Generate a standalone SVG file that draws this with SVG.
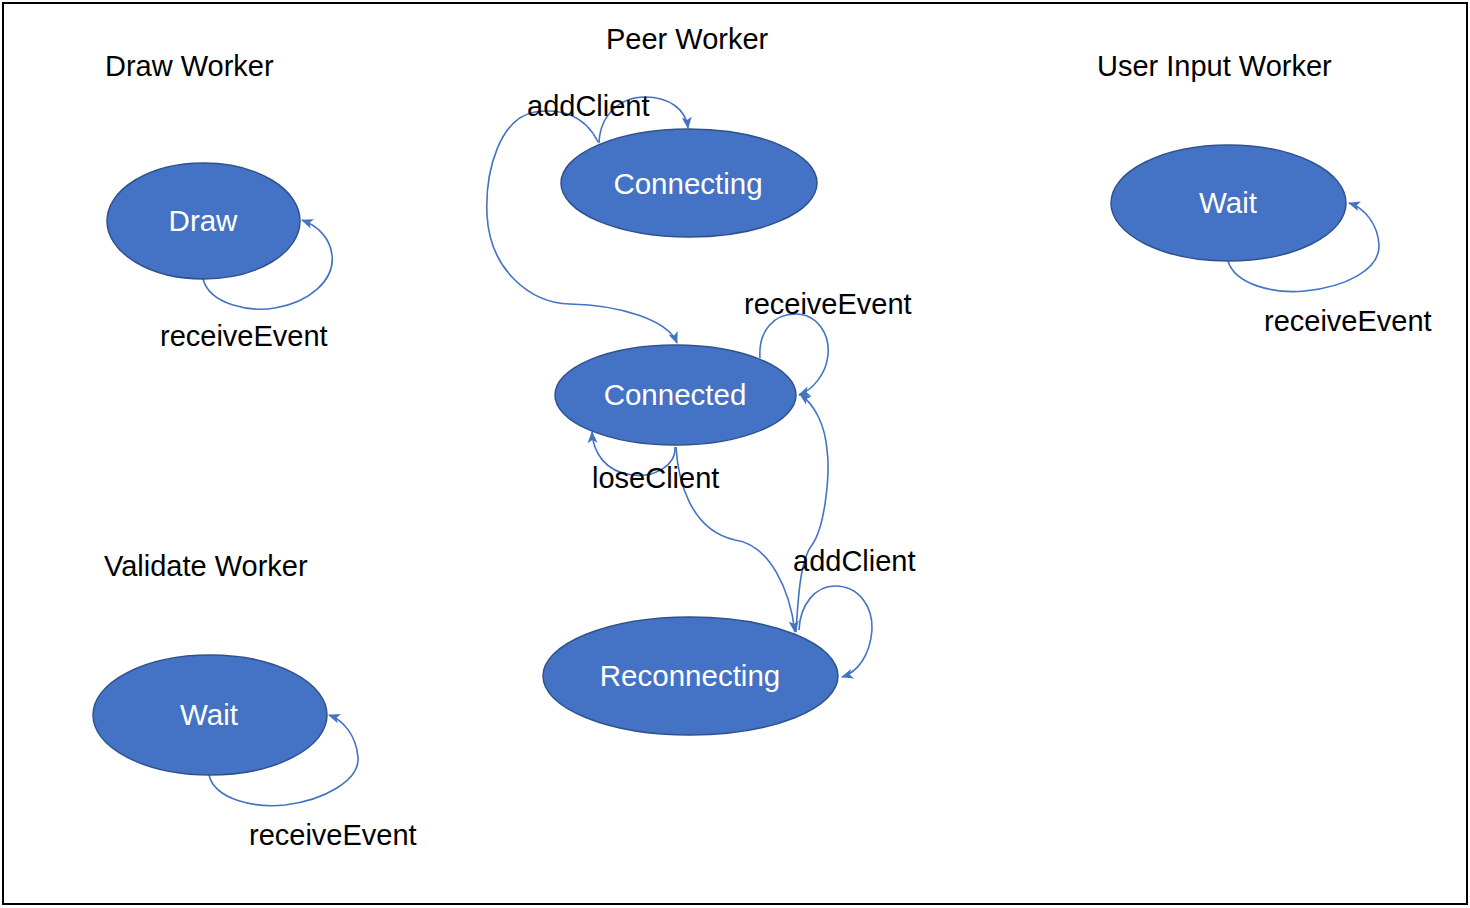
<svg xmlns="http://www.w3.org/2000/svg" width="1470" height="908" viewBox="0 0 1470 908">
<style>
.state{fill:#4472C4;stroke:#2F528F;stroke-width:1.5}
.st{fill:#FFFFFF;font-family:"Liberation Sans",Arial,sans-serif;font-size:29.5px;text-anchor:middle}
.lbl{fill:#000000;font-family:"Liberation Sans",Arial,sans-serif;font-size:29px}
.edge{fill:none;stroke:#4472C4;stroke-width:1.6;marker-end:url(#arr)}
</style>
<defs>
<marker id="arr" viewBox="0 0 12 10" refX="11" refY="5" markerWidth="12" markerHeight="10" markerUnits="userSpaceOnUse" orient="auto">
<path d="M0,0 L12,5 L0,10 L3,5 z" fill="#4472C4"/>
</marker>
</defs>
<rect x="3" y="3" width="1464" height="901" fill="#FFFFFF" stroke="#000000" stroke-width="2"/>

<g id="titles">
<text class="lbl" x="105" y="76">Draw Worker</text>
<text class="lbl" x="606" y="49">Peer Worker</text>
<text class="lbl" x="1097" y="76">User Input Worker</text>
<text class="lbl" x="104" y="576">Validate Worker</text>
</g>

<g id="connectors">
<path class="edge" d="M203,279 C210,305 250,312 275,308 C310,302 335,280 332,255 C330,238 318,226 302,220"/>
<path class="edge" d="M599,143 C600,115 620,97 645,97 C670,97 686,110 688,128"/>
<path class="edge" d="M598,142 C585,115 560,108 535,112 C500,118 485,170 487,215 C490,270 530,303 570,304 C620,305 668,320 677,343"/>
<path class="edge" d="M760,358 C758,330 775,314 795,314 C818,314 830,335 828,355 C826,375 812,390 799,395"/>
<path class="edge" d="M675,447 C676,465 655,478 632,475 C605,472 593,452 592,432"/>
<path class="edge" d="M676,447 C678,480 690,530 735,540 C770,545 790,590 795,632"/>
<path class="edge" d="M796,632 C798,600 800,560 812,545 C826,525 830,470 827,450 C825,425 815,405 800,394"/>
<path class="edge" d="M799,630 C800,605 815,586 835,586 C860,586 873,608 872,630 C870,655 858,672 842,677"/>
<path class="edge" d="M1228,261 C1235,285 1275,294 1305,291 C1345,287 1380,270 1379,245 C1378,225 1365,208 1349,203"/>
<path class="edge" d="M209,775 C215,800 255,808 285,805 C325,800 360,780 358,757 C356,735 343,720 329,715"/>
<text class="lbl" x="160" y="346">receiveEvent</text>
<text class="lbl" x="527" y="116">addClient</text>
<text class="lbl" x="744" y="314">receiveEvent</text>
<text class="lbl" x="592" y="488">loseClient</text>
<text class="lbl" x="793" y="571">addClient</text>
<text class="lbl" x="1264" y="331">receiveEvent</text>
<text class="lbl" x="249" y="845">receiveEvent</text>
</g>

<g id="draw">
<ellipse class="state" cx="203.5" cy="221" rx="96.5" ry="58"/>
<text class="st" x="203" y="231">Draw</text>
</g>
<g id="connecting">
<ellipse class="state" cx="689" cy="183" rx="128" ry="54"/>
<text class="st" x="688" y="194">Connecting</text>
</g>
<g id="connected">
<ellipse class="state" cx="675.5" cy="395" rx="120.5" ry="50"/>
<text class="st" x="675" y="405">Connected</text>
</g>
<g id="reconnecting">
<ellipse class="state" cx="690.5" cy="676" rx="147.5" ry="59"/>
<text class="st" x="690" y="686">Reconnecting</text>
</g>
<g id="user-wait">
<ellipse class="state" cx="1228.5" cy="203" rx="117.5" ry="58"/>
<text class="st" x="1228" y="213">Wait</text>
</g>
<g id="validate-wait">
<ellipse class="state" cx="210" cy="715" rx="117" ry="60"/>
<text class="st" x="209" y="725">Wait</text>
</g>
</svg>
